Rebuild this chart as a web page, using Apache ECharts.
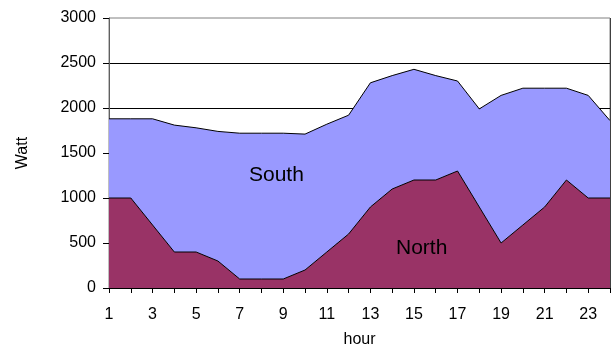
<!DOCTYPE html>
<html>
<head>
<meta charset="utf-8">
<script src="https://cdn.jsdelivr.net/npm/echarts@6/dist/echarts.min.js"></script>
<style>
  html, body { margin: 0; padding: 0; background: #fff; }
  #chart { width: 612px; height: 344px; }
</style>
</head>
<body>
<div id="chart"></div>
<script>
// Hourly power, stacked: North at the bottom, South on top (Watt)
const hours = ['1','2','3','4','5','6','7','8','9','10','11','12','13','14','15','16','17','18','19','20','21','22','23','24'];
const north = [1000, 1000, 700, 400, 400, 300, 100, 100, 100, 200, 400, 600, 900, 1100, 1200, 1200, 1300, 900, 500, 700, 900, 1200, 1000, 1000];
const south = [880, 880, 1180, 1410, 1380, 1440, 1620, 1620, 1620, 1510, 1420, 1320, 1380, 1260, 1230, 1160, 1000, 1090, 1640, 1520, 1320, 1020, 1140, 860];
const yTicks = { min: 0, max: 3000, interval: 500 };

const FONT = 'Liberation Sans, Arial, sans-serif';
const chart = echarts.init(document.getElementById('chart'), null, { renderer: 'canvas' });

chart.setOption({
  animation: false,
  backgroundColor: '#ffffff',
  grid: {
    left: 109, right: 2, top: 18, bottom: 56,
    outerBoundsMode: 'none',
    containLabel: false,
    show: true, borderColor: '#808080', borderWidth: 1, backgroundColor: 'transparent'
  },
  xAxis: {
    type: 'category',
    data: hours,
    boundaryGap: false,
    name: 'hour',
    nameLocation: 'middle',
    nameGap: 44,
    nameTextStyle: { fontFamily: FONT, fontSize: 16, color: '#000' },
    axisLine: { show: true, lineStyle: { color: '#000', width: 1 } },
    axisTick: { show: true, interval: 0, length: 5, lineStyle: { color: '#000' } },
    axisLabel: { interval: 1, margin: 19, fontFamily: FONT, fontSize: 16, color: '#000' },
    splitLine: { show: false }
  },
  yAxis: {
    type: 'value',
    min: yTicks.min,
    max: yTicks.max,
    interval: yTicks.interval,
    name: 'Watt',
    nameLocation: 'middle',
    nameGap: 78,
    nameTextStyle: { fontFamily: FONT, fontSize: 16, color: '#000' },
    axisLine: { show: true, lineStyle: { color: '#606060', width: 1 } },
    axisTick: { show: true, length: 6, lineStyle: { color: '#000' } },
    axisLabel: { margin: 13, fontFamily: FONT, fontSize: 16, color: '#000', formatter: (v) => String(v) },
    splitLine: { show: true, showMaxLine: false, lineStyle: { color: '#000', width: 1 } }
  },
  series: [
    {
      name: 'North',
      type: 'line',
      stack: 'power',
      data: north,
      symbol: 'none',
      z: 3,
      lineStyle: { color: '#000', width: 1 },
      areaStyle: { color: '#993366', opacity: 1 }
    },
    {
      name: 'South',
      type: 'line',
      stack: 'power',
      data: south,
      symbol: 'none',
      z: 2,
      lineStyle: { color: '#000', width: 1 },
      areaStyle: { color: '#9999FF', opacity: 1 }
    }
  ],
  graphic: [
    {
      type: 'text', left: 249, top: 165, z: 100,
      style: { text: 'South', font: '21px ' + FONT, fill: '#000' }
    },
    {
      type: 'text', left: 396, top: 238, z: 100,
      style: { text: 'North', font: '21px ' + FONT, fill: '#000' }
    },
    {
      type: 'line', z: 100,
      shape: { x1: 610.5, y1: 18, x2: 610.5, y2: 288 },
      style: { stroke: '#404040', lineWidth: 1 }
    }
  ]
});
</script>
</body>
</html>
